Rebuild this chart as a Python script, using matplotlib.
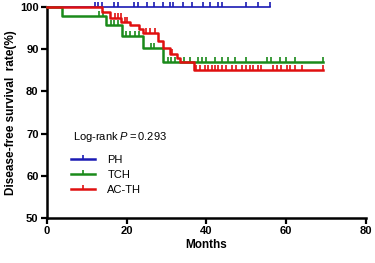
import matplotlib
matplotlib.use("Agg")
import matplotlib.pyplot as plt
from matplotlib.path import Path
from matplotlib.lines import Line2D

plt.rcParams['font.family'] = ['Liberation Sans', 'DejaVu Sans']
plt.rcParams['mathtext.fontset'] = 'custom'
plt.rcParams['mathtext.it'] = 'Liberation Sans:italic'
plt.rcParams['mathtext.rm'] = 'Liberation Sans'

# groups
groups = ["PH", "TCH", "AC-TH"]
colors = ["#1a1ab4", "#1a8a1a", "#e01010"]

# PH: no events, censored only
ph_times = [0]
ph_surv = [100]
ph_end = 55.9
ph_cens = [12.0, 12.9, 13.7, 16.8, 17.9, 21.9, 22.9, 25.0, 26.9, 29.0, 30.8,
           31.7, 34.0, 36.3, 39.2, 40.9, 43.0, 43.8, 50.0, 53.0, 55.9]

# TCH
tch_times = [0, 3.8, 14.7, 18.9, 24.0, 29.0]
tch_surv = [100, 98.0, 95.7, 93.1, 90.2, 87.1]
tch_end = 69.1
tch_cens_t = [13.1, 14.1, 16.2, 16.8, 17.9, 19.8, 20.8, 22.1, 23.1, 26.1, 26.9,
              30.4, 31.2, 32.1, 34.3, 36.0, 37.9, 38.9, 40.0, 42.1, 44.0, 45.4,
              47.1, 50.0, 55.1, 56.3, 58.4, 60.0, 62.2, 69.1]

# AC-TH
acth_times = [0, 13.9, 15.8, 18.7, 20.8, 23.1, 24.0, 27.9, 29.0, 30.8, 32.5, 33.3, 36.9]
acth_surv = [100, 98.9, 97.3, 96.5, 95.8, 94.7, 93.9, 91.9, 90.3, 89.0, 87.9, 87.0, 85.2]
acth_end = 69.1
acth_cens_t = [17.2, 17.8, 18.5, 19.5, 20.1, 24.8, 25.8, 27.1, 31.4,
               37.5, 38.3, 39.6, 40.4, 41.3, 42.1, 42.9, 44.0, 45.0, 46.3, 47.5,
               48.8, 50.0, 50.9, 51.7, 53.0, 53.8, 56.7, 57.6, 58.8, 60.1, 60.9,
               62.2, 63.9, 69.1]

tick = Path([(0, 0), (0, 1)])


def surv_at(times, surv, t):
    s = surv[0]
    for ti, si in zip(times, surv):
        if ti <= t:
            s = si
    return s


fig = plt.figure(figsize=(3.75, 2.63), dpi=100)
ax = fig.add_axes([0.125, 0.171, 0.851, 0.802])

data = [(ph_times, ph_surv, ph_end, ph_cens, 1.2),
        (tch_times, tch_surv, tch_end, tch_cens_t, 1.8),
        (acth_times, acth_surv, acth_end, acth_cens_t, 1.8)]

for (times, surv, end, cens, lw), c in zip(data, colors):
    xs = list(times) + [end]
    ys = list(surv) + [surv[-1]]
    ax.step(xs, ys, where='post', color=c, lw=lw, clip_on=False, zorder=3)
    cy = [surv_at(times, surv, t) for t in cens]
    ax.plot(cens, cy, ls='none', marker=tick, ms=7.5, mew=1.2, color=c,
            clip_on=False, zorder=3)

ax.set_xlim(0, 80)
ax.set_ylim(50, 100)
ax.set_xticks([0, 20, 40, 60, 80])
ax.set_yticks([50, 60, 70, 80, 90, 100])
for s in ['top', 'right']:
    ax.spines[s].set_visible(False)
for s in ['left', 'bottom']:
    ax.spines[s].set_linewidth(1.8)
ax.tick_params(direction='out', length=4, width=1.6, labelsize=8, pad=2)
for lab in ax.get_xticklabels() + ax.get_yticklabels():
    lab.set_fontweight('bold')

ax.set_xlabel("Months", fontsize=8.5, fontweight='bold', labelpad=2)
ax.set_ylabel("Disease-free survival  rate(%)", fontsize=8.5, fontweight='bold', labelpad=2)

ax.text(6.5, 69.2, r"Log-rank $\it{P=0.293}$", fontsize=8, va='center')

handles = [Line2D([], [], color=c, lw=1.8, marker=tick, ms=6, mew=1.2) for c in colors]
ax.legend(handles, groups, loc='upper left', bbox_to_anchor=(0.075, 0.30),
          frameon=False, fontsize=8, handlelength=2.2, handletextpad=1.1,
          labelspacing=0.45, borderaxespad=0, borderpad=0)

fig.savefig("out.png", dpi=100)
